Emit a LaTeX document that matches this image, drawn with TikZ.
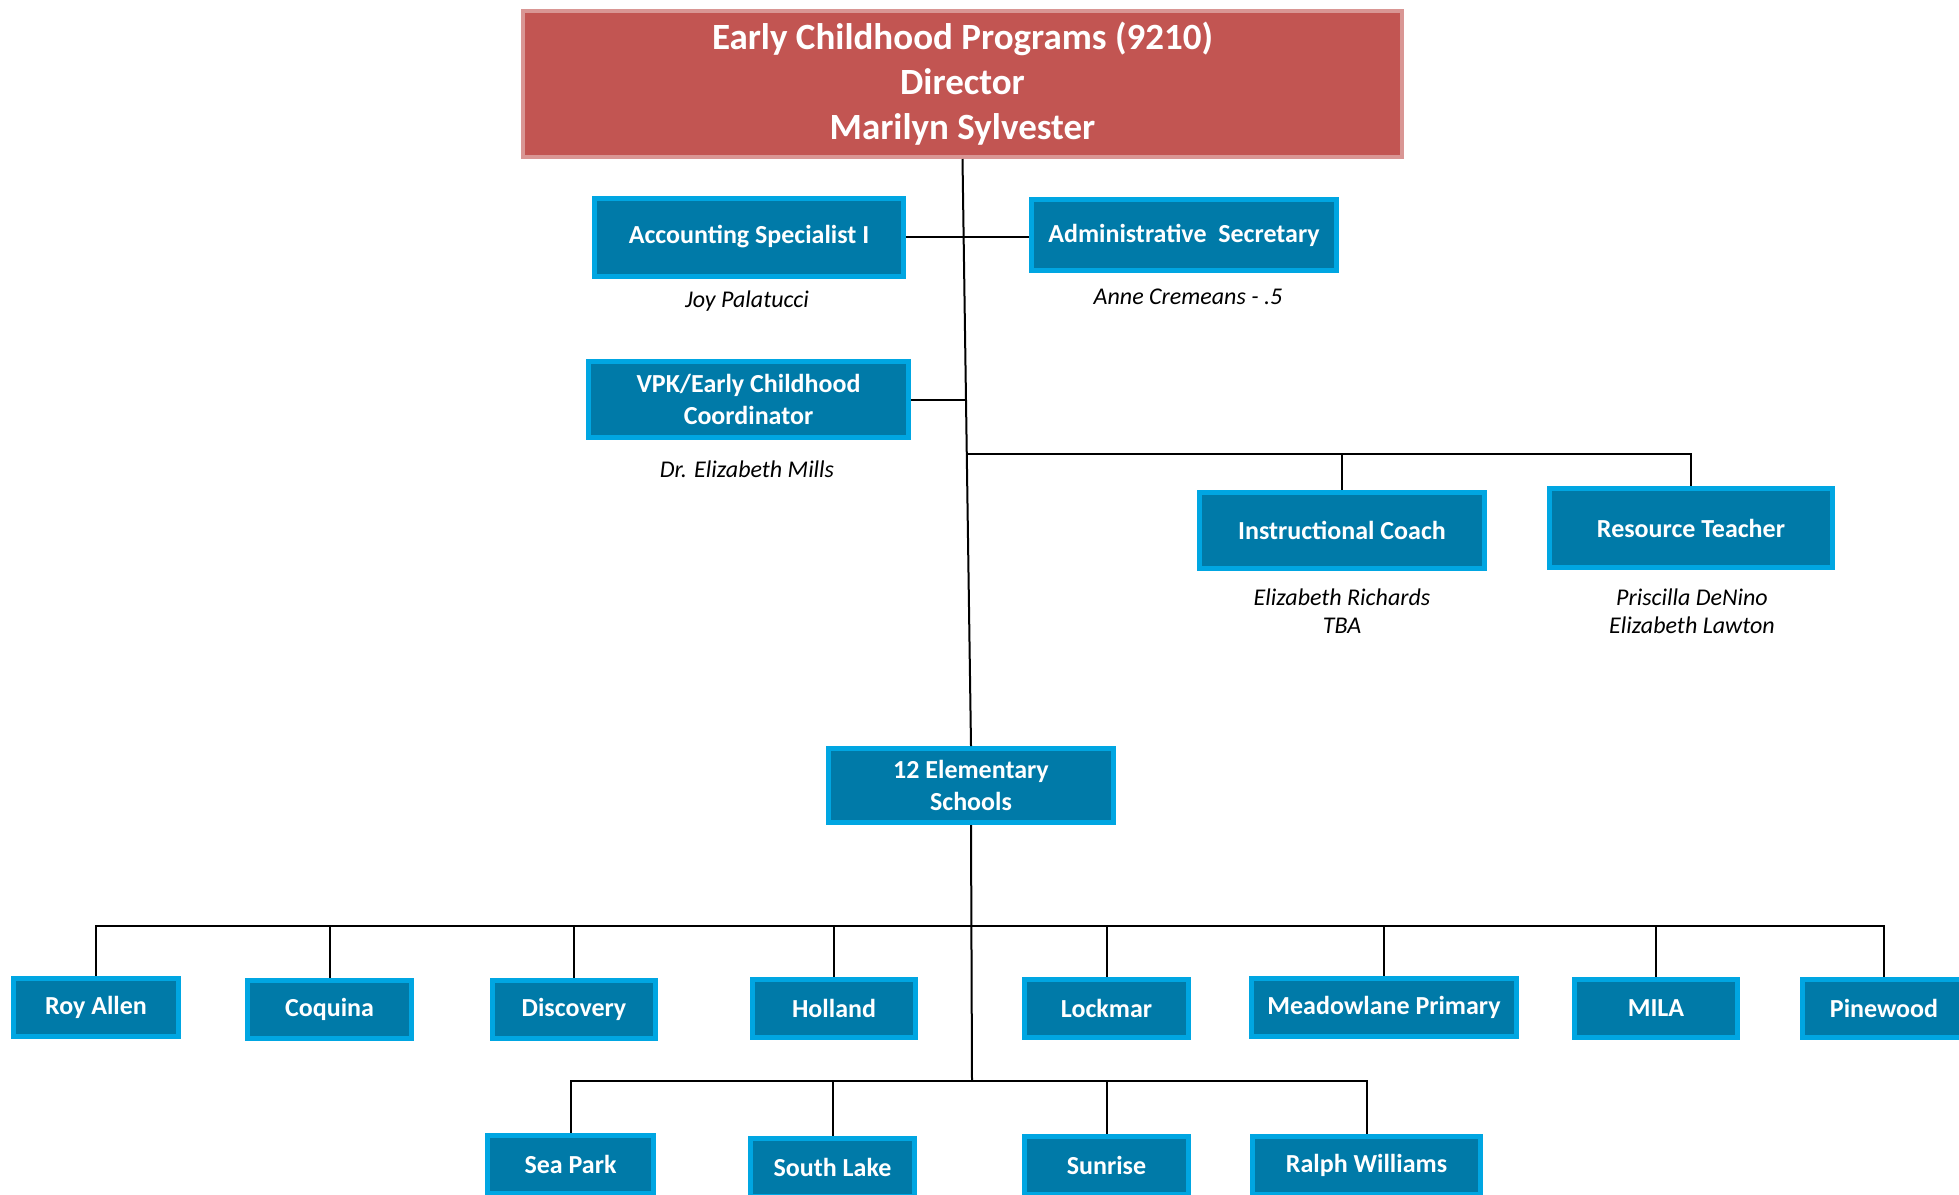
\documentclass[tikz,border=0pt]{standalone}
\usepackage{fontspec}
\setmainfont{Carlito}
\definecolor{dirred}{HTML}{C25552}
\definecolor{dirrim}{HTML}{D99694}
\definecolor{boxblue}{HTML}{007AA8}
\definecolor{boxrim}{HTML}{00A6E2}

\begin{document}
\begin{tikzpicture}
[-,line width=2pt,x=1pt,y=-1pt,%
  every node/.style={align=center,inner sep=0pt},%
  head/.style={rectangle,fill=dirred,draw=dirrim,line width=4pt,text=white,%
    font=\fontsize{37}{45}\selectfont\bfseries},%
  unit/.style={rectangle,fill=boxblue,draw=boxrim,line width=5pt,text=white,%
    font=\fontsize{26}{32}\selectfont\bfseries},%
  who/.style={font=\fontsize{24}{28}\selectfont\itshape}]
\useasboundingbox (0,0) rectangle (1959,1194);
\node[head,minimum width=879,minimum height=146] (dir) at (962.5,84)
  {Early Childhood Programs (9210)\\Director\\Marilyn Sylvester};
\node[unit,minimum width=309,minimum height=78] (acc) at (749,237) {Accounting Specialist I};
\node[unit,minimum width=305,minimum height=71] (adm) at (1184,235) {Administrative\ \ Secretary};
\node[unit,minimum width=320,minimum height=76] (vpk) at (748.5,399.5)
  {VPK/Early Childhood\\Coordinator};
\node[unit,minimum width=285,minimum height=76] (ic) at (1342,530.5) {Instructional Coach};
\node[unit,minimum width=283,minimum height=79] (rt) at (1691,528) {Resource Teacher};
\node[unit,minimum width=285,minimum height=74] (elem) at (971,785.5) {12 Elementary\\Schools};
\node[who] (accwho) at (747,301) {Joy Palatucci};
\node[who] (admwho) at (1188,297) {Anne Cremeans - .5};
\node[who] (vpkwho) at (747,469) {Dr. Elizabeth Mills};
\node[who] (icwho) at (1342,611) {Elizabeth Richards\\TBA};
\node[who] (rtwho) at (1692,611) {Priscilla DeNino\\Elizabeth Lawton};
% first row of schools
\node[unit,minimum width=165,minimum height=58] (roy) at (96,1007) {Roy Allen};
\node[unit,minimum width=164,minimum height=58] (coq) at (329.5,1009.5) {Coquina};
\node[unit,minimum width=163,minimum height=58] (disc) at (574,1009.5) {Discovery};
\node[unit,minimum width=163,minimum height=58] (hol) at (834,1008) {Holland};
\node[unit,minimum width=164,minimum height=58] (lock) at (1106.5,1008) {Lockmar};
\node[unit,minimum width=265,minimum height=58] (mead) at (1384,1007) {Meadowlane Primary};
\node[unit,minimum width=163,minimum height=58] (mila) at (1656,1008) {MILA};
\node[unit,minimum width=163,minimum height=58] (pine) at (1884,1008) {Pinewood};
% second row of schools
\node[unit,minimum width=166,minimum height=58] (sea) at (570.5,1164) {Sea Park};
\node[unit,minimum width=164,minimum height=58] (south) at (832.5,1167) {South Lake};
\node[unit,minimum width=164,minimum height=58] (sun) at (1106.5,1165) {Sunrise};
\node[unit,minimum width=228,minimum height=58] (ralph) at (1366.5,1165) {Ralph Williams};
\coordinate (vpkjoin) at (967,399.5);
\coordinate (staff) at (968,453.5);
\coordinate (hub1) at (972,926);
\coordinate (hub2) at (972,1081);
\draw (dir.south) -- (elem.north);
\draw (acc.east) -- (acc.east -| adm.west);
\draw (vpk.east) -- (vpkjoin);
\draw (staff) -| (rt.north);
\draw (ic.north) -- (ic.north |- staff);
\draw (elem.south) -- (hub2);
\draw (roy.north) |- (hub1) -| (pine.north);
\foreach \s in {coq,disc,hol,lock,mead,mila}
  \draw (\s.north) -- (\s.north |- hub1);
\draw (sea.north) |- (hub2) -| (ralph.north);
\foreach \s in {south,sun}
  \draw (\s.north) -- (\s.north |- hub2);
\end{tikzpicture}
\end{document}
